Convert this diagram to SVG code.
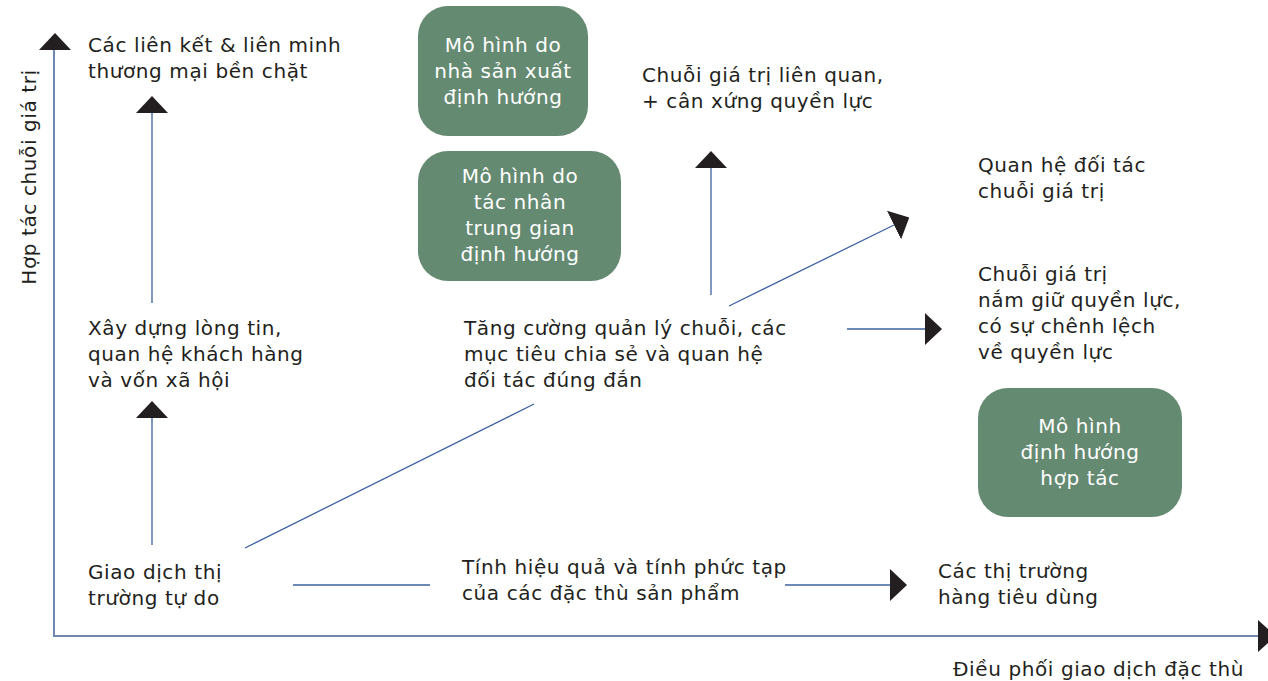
<svg xmlns="http://www.w3.org/2000/svg" width="1268" height="681" viewBox="0 0 1268 681">
<defs>
<style>
text{font-family:"DejaVu Sans","Liberation Sans",sans-serif;font-size:20px;letter-spacing:0.6px;fill:#231f20;}
.w{fill:#ffffff;text-anchor:middle;}
.box{fill:#658a72;}
.ln{stroke:#3d62a0;stroke-width:1.3;fill:none;}
.ax{stroke:#6f88b2;stroke-width:2;fill:none;}
</style>
<marker id="ah" viewBox="0 0 17 32" refX="0" refY="16" markerWidth="17" markerHeight="32" markerUnits="userSpaceOnUse" orient="auto">
<path d="M0,0 L17,16 L0,32 Z" fill="#231f20"/>
</marker>
</defs>
<rect width="1268" height="681" fill="#ffffff"/>

<g id="axes">
<path class="ax" d="M54,50 V636 H1258"/>
<path d="M39,50 L55,33 L71,50 Z" fill="#231f20"/>
<path d="M1258,620 L1276,636 L1258,652 Z" fill="#231f20"/>
<text transform="translate(36,177) rotate(-90)" text-anchor="middle">Hợp tác chuỗi giá trị</text>
<text x="953" y="676">Điều phối giao dịch đặc thù</text>
</g>

<g id="connectors">
<line class="ln" x1="152" y1="303" x2="152" y2="113" marker-end="url(#ah)"/>
<line class="ln" x1="152" y1="545" x2="152" y2="418" marker-end="url(#ah)"/>
<line class="ln" x1="245" y1="548" x2="534" y2="404"/>
<line class="ln" x1="293" y1="585" x2="430" y2="585"/>
<line class="ln" x1="785" y1="585" x2="890" y2="585" marker-end="url(#ah)"/>
<line class="ln" x1="711" y1="295" x2="711" y2="168" marker-end="url(#ah)"/>
<line class="ln" x1="729" y1="306" x2="894" y2="225" marker-end="url(#ah)"/>
<line class="ln" x1="847" y1="329" x2="925" y2="329" marker-end="url(#ah)"/>
</g>

<g id="n-lien-ket">
<text x="88" y="52">Các liên kết &amp; liên minh</text>
<text x="88" y="78">thương mại bền chặt</text>
</g>
<g id="n-xay-dung">
<text x="88" y="335">Xây dựng lòng tin,</text>
<text x="88" y="361">quan hệ khách hàng</text>
<text x="88" y="387">và vốn xã hội</text>
</g>
<g id="n-giao-dich">
<text x="88" y="579">Giao dịch thị</text>
<text x="88" y="605">trường tự do</text>
</g>
<g id="n-tinh-hieu-qua">
<text x="462" y="574">Tính hiệu quả và tính phức tạp</text>
<text x="462" y="600">của các đặc thù sản phẩm</text>
</g>
<g id="n-thi-truong">
<text x="938" y="578">Các thị trường</text>
<text x="938" y="604">hàng tiêu dùng</text>
</g>
<g id="n-tang-cuong">
<text x="464" y="335">Tăng cường quản lý chuỗi, các</text>
<text x="464" y="361">mục tiêu chia sẻ và quan hệ</text>
<text x="464" y="387">đối tác đúng đắn</text>
</g>
<g id="n-lien-quan">
<text x="642" y="82">Chuỗi giá trị liên quan,</text>
<text x="642" y="108">+ cân xứng quyền lực</text>
</g>
<g id="n-doi-tac">
<text x="978" y="172">Quan hệ đối tác</text>
<text x="978" y="198">chuỗi giá trị</text>
</g>
<g id="n-nam-giu">
<text x="978" y="281">Chuỗi giá trị</text>
<text x="978" y="307">nắm giữ quyền lực,</text>
<text x="978" y="333">có sự chênh lệch</text>
<text x="978" y="359">về quyền lực</text>
</g>

<g id="box-nha-san-xuat">
<rect class="box" x="418" y="6" width="170" height="130" rx="30"/>
<text class="w" x="503" y="52">Mô hình do</text>
<text class="w" x="503" y="78">nhà sản xuất</text>
<text class="w" x="503" y="104">định hướng</text>
</g>
<g id="box-trung-gian">
<rect class="box" x="418" y="151" width="203" height="130" rx="30"/>
<text class="w" x="520" y="183">Mô hình do</text>
<text class="w" x="520" y="209">tác nhân</text>
<text class="w" x="520" y="235">trung gian</text>
<text class="w" x="520" y="261">định hướng</text>
</g>
<g id="box-hop-tac">
<rect class="box" x="978" y="388" width="204" height="129" rx="30"/>
<text class="w" x="1080" y="433">Mô hình</text>
<text class="w" x="1080" y="459">định hướng</text>
<text class="w" x="1080" y="485">hợp tác</text>
</g>
</svg>
